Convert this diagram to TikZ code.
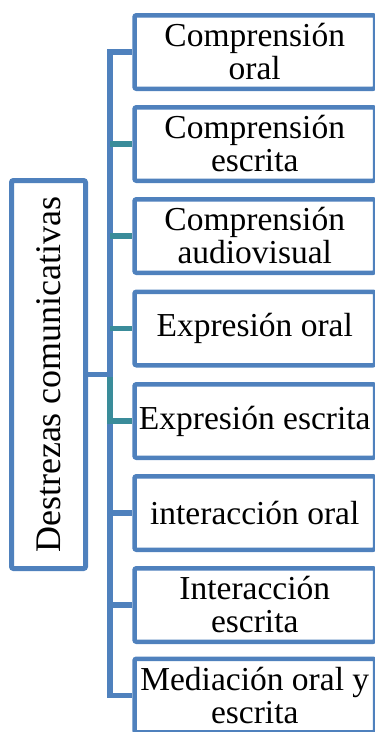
\documentclass[tikz,border=0pt]{standalone}
\usepackage{fontspec}
\setmainfont{Liberation Serif}
\usetikzlibrary{backgrounds}
\definecolor{boxblue}{RGB}{79,129,189}
\definecolor{linkteal}{RGB}{58,140,154}
\begin{document}
\begin{tikzpicture}[x=1pt,y=-1pt,
  leaf/.style={draw=boxblue, line width=4.5pt, rounded corners=2pt, fill=white,
    minimum width=240.5pt, minimum height=73.5pt, inner sep=0pt, align=center,
    font=\fontsize{33.5}{33}\selectfont},
  rootbox/.style={draw=boxblue, line width=5pt, rounded corners=2pt, fill=white,
    minimum width=388pt, minimum height=74pt, inner sep=0pt, align=center,
    font=\fontsize{36}{36}\selectfont},
  bluelink/.style={draw=boxblue, line width=5.5pt},
  teallink/.style={draw=linkteal, line width=5.5pt}]
\clip (0,0) rectangle (375,732);
\node[rootbox, rotate=90] (m) at (48.5,374.5) {Destrezas comunicativas};
\node[leaf] (b1) at (254.75,52) {Comprensión\\oral};
\node[leaf] (b2) at (254.75,144) {Comprensión\\escrita};
\node[leaf] (b3) at (254.75,236) {Comprensión\\audiovisual};
\node[leaf] (b4) at (254.75,328.5) {Expresión oral};
\node[leaf] (b5) at (254.75,421) {Expresión escrita};
\node[leaf] (b6) at (254.75,513) {interacción oral};
\node[leaf] (b7) at (254.75,605) {Interacción\\escrita};
\node[leaf] (b8) at (254.75,695.5) {Mediación oral y\\escrita};
\coordinate (j) at (110,374.5);
\begin{scope}[on background layer]
\draw[bluelink] (b1.west) -- (b1.west -| j) -- (b8.west -| j) -- (b8.west);
\draw[bluelink] (b6.west -| j) -- (b6.west);
\draw[bluelink] (b7.west -| j) -- (b7.west);
\draw[teallink] (b2.west -| j) -- (b2.west);
\draw[teallink] (b3.west -| j) -- (b3.west);
\draw[teallink] (b4.west -| j) -- (b4.west);
\draw[teallink] (j) -- (b5.west -| j) -- (b5.west);
\draw[bluelink] (m.south) -- ([xshift=2.75pt]j);
\end{scope}
\end{tikzpicture}
\end{document}
